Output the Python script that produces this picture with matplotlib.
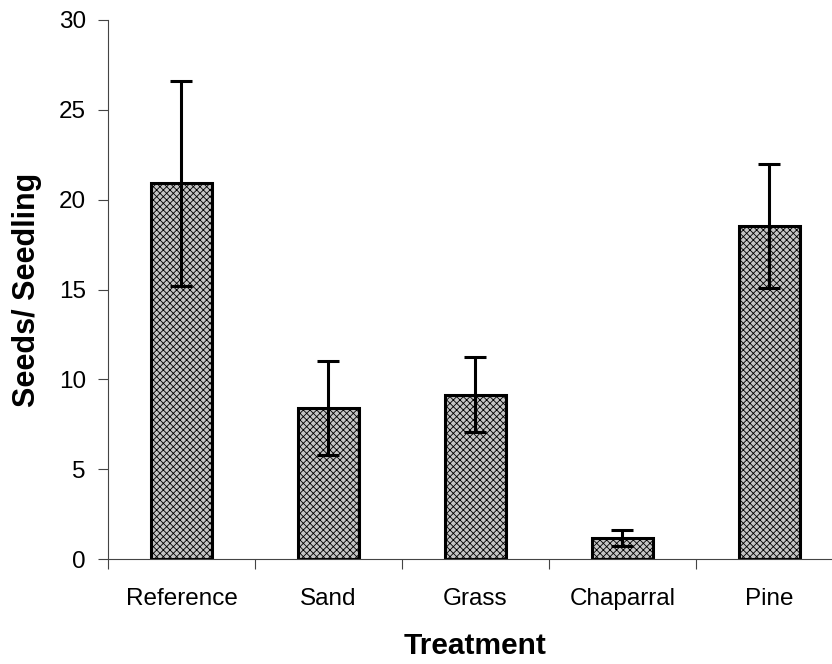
import numpy as np
import matplotlib.pyplot as plt

# Значення
treatments = ['Reference', 'Sand', 'Grass', 'Chaparral', 'Pine']
seeds_per_seedling = [20.9, 8.4, 9.15, 1.15, 18.55]
errors = [5.7, 2.6, 2.1, 0.45, 3.45]

plt.rcParams['font.family'] = ['Liberation Sans', 'DejaVu Sans']
plt.rcParams['hatch.linewidth'] = 0.6
plt.rcParams['hatch.color'] = '#3a3a3a'

fig = plt.figure(figsize=(8.32, 6.64), dpi=100)
ax = fig.add_axes([0.1298, 0.1581, 0.8834, 0.8118])

x = np.arange(len(treatments))
ax.bar(x, seeds_per_seedling, width=0.41, color='#c4c4c4', edgecolor='black',
       linewidth=2.2, hatch='xxxxx', zorder=2)
ax.errorbar(x, seeds_per_seedling, yerr=errors, fmt='none', ecolor='black',
            elinewidth=2.2, capsize=8, capthick=2.2, zorder=3)

ax.set_xlim(-0.5, len(treatments) - 0.5)
ax.set_ylim(0, 30)
ax.set_yticks(np.arange(0, 31, 5))
ax.set_xticks(x)
ax.set_xticklabels(treatments)
ax.set_xticks(np.arange(-0.5, len(treatments), 1), minor=True)

ax.spines['top'].set_visible(False)
ax.spines['right'].set_visible(False)
for s in ['left', 'bottom']:
    ax.spines[s].set_linewidth(0.8)
    ax.spines[s].set_color('#444444')

ax.tick_params(axis='y', direction='out', length=7, width=0.8, pad=9,
               labelsize=17.5, color='#444444')
ax.tick_params(axis='x', which='major', length=0, pad=21, labelsize=17.5)
ax.tick_params(axis='x', which='minor', direction='out', length=7, width=0.8,
               color='#444444')

ax.set_ylabel('Seeds/ Seedling', fontsize=22, fontweight='bold')
ax.set_xlabel('Treatment', fontsize=21.5, fontweight='bold')
ax.yaxis.set_label_coords(-0.090, 0.5)
ax.xaxis.set_label_coords(0.5, -0.136)

fig.savefig('out.png', dpi=100)
